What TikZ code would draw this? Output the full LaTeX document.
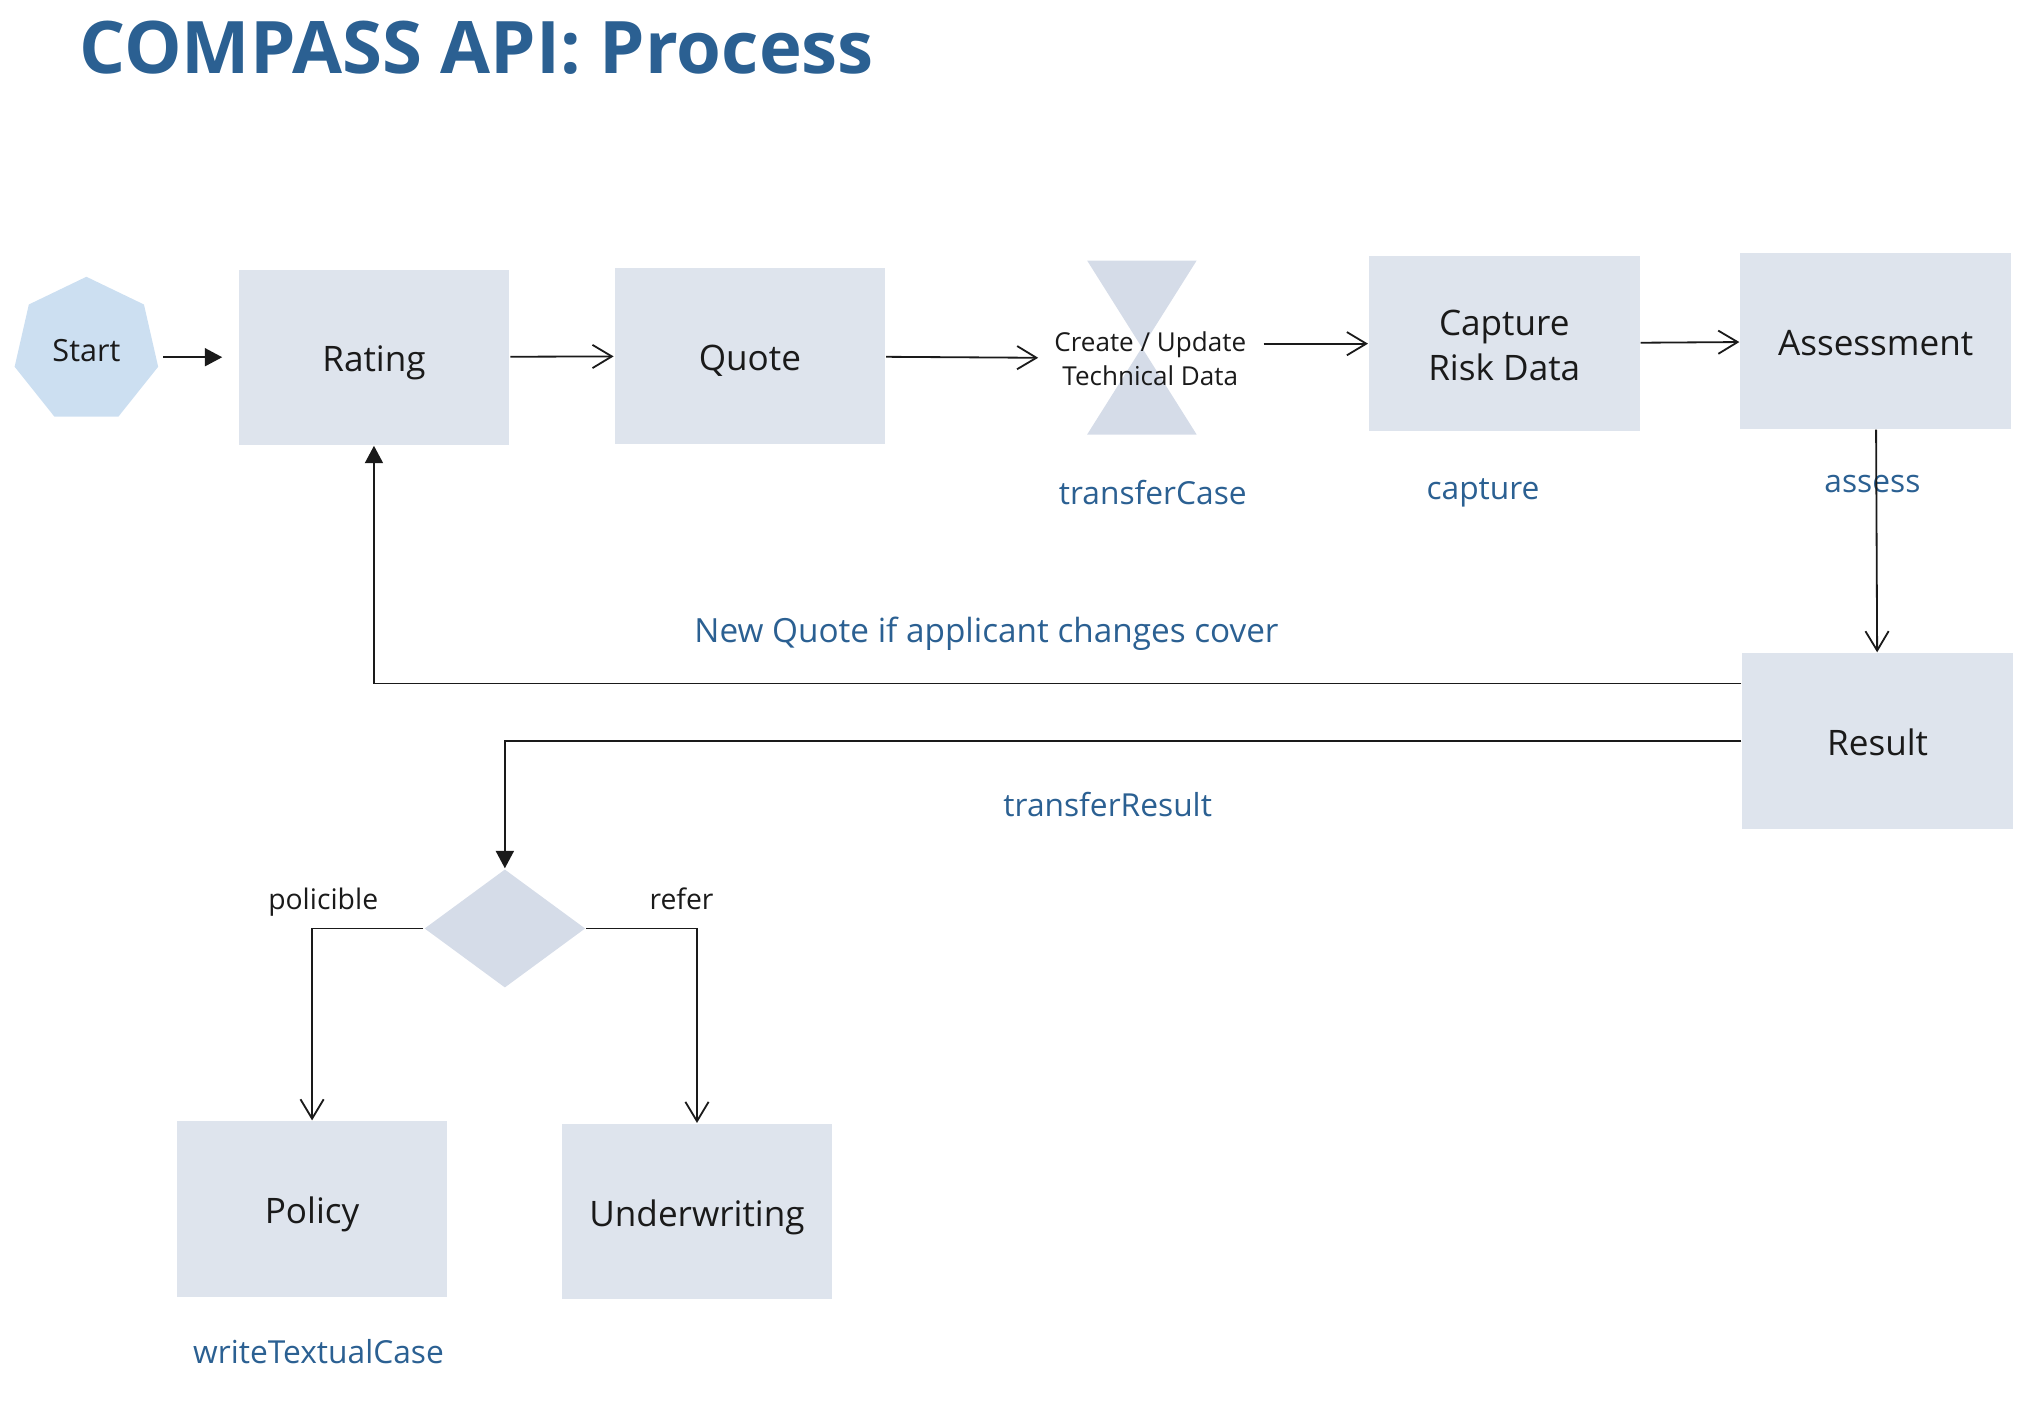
\documentclass[tikz,border=0pt]{standalone}
\usepackage{fontspec}
\setmainfont{Open Sans}
\usetikzlibrary{arrows.meta,shapes.geometric,positioning}

\definecolor{titleblue}{HTML}{2B6092}
\definecolor{boxfill}{HTML}{DEE4ED}
\definecolor{startfill}{HTML}{CCDFF1}
\definecolor{gatefill}{HTML}{D5DCE8}
\definecolor{ink}{HTML}{1A1A1A}

\begin{document}
\begin{tikzpicture}[x=0.02cm,y=-0.02cm,color=ink,line width=0.8pt,
                    >={Straight Barb[length=0.3cm,width=0.36cm]},
                    box/.style={rectangle,fill=boxfill,minimum width=4.2cm,minimum height=2.72cm,
                                align=center,font=\fontsize{15.5}{19.9}\selectfont,
                                execute at begin node={\rule[-5pt]{0pt}{22.8pt}},
                                execute at end node={\rule[-5pt]{0pt}{22.8pt}}},
                    api/.style={text=titleblue,font=\fontsize{14}{17}\selectfont,yshift=-0.06cm,
                                execute at begin node=\strut},
                    tag/.style={font=\fontsize{12.5}{15}\selectfont,execute at begin node=\strut},
                    fillarrow/.style={-{Triangle[length=0.27cm,width=0.28cm]}}]

  \useasboundingbox (0,0) rectangle (1568,1107);

  \node [anchor=base west, text=titleblue, font=\fontsize{32}{37}\selectfont\bfseries] (title) at (55,57) {COMPASS API: Process};

  \node [regular polygon, regular polygon sides=7, fill=startfill, minimum size=2.284cm, inner sep=0pt,
         font=\fontsize{13.5}{16}\selectfont] (start) at (67,271.7) {Start};
  \node [box] (rating) at (290,277) {Rating};
  \node [box] (quote) at (581.5,276) {Quote};

  % hourglass behind the text
  \fill [gatefill] (843,202) -- (928,202) -- (843,337) -- (928,337) -- cycle;
  \node [align=center, font=\fontsize{11.5}{14.8}\selectfont] (tech) at (892,278) {Create / Update\\Technical Data};

  \node [box, execute at begin node={}, execute at end node={}] (capture) at (1166.5,266.5)
        {\rule{0pt}{17.8pt}Capture\\Risk Data\rule[-5pt]{0pt}{5pt}};
  \node [box] (assessment) at (1454.5,264.5) {Assessment};
  \node [box] (result) at (1456,574.5) {Result};
  \node [diamond, fill=gatefill, minimum width=2.5cm, minimum height=1.84cm, inner sep=0pt] (decision) at (391.5,720) {};
  \node [box] (policy) at (242,937.5) {Policy};
  \node [box] (underwriting) at (540.5,939.5) {Underwriting};

  \node [api] (transfercase) at (894,382) {transferCase};
  \node [api] (capturecall) at (1150,378) {capture};
  \node [api] (assesscall) at (1452,373) {assess};
  \node [api, font=\fontsize{14.7}{17}\selectfont] (newquote) at (765,489) {New Quote if applicant changes cover};
  \node [api] (transferresult) at (859,624) {transferResult};
  \node [api] (writecase) at (247,1048) {writeTextualCase};

  \path [draw, fillarrow, shorten <=0.12cm, shorten >=0.24cm] (start.east |- rating.west) -- (rating.west);
  \path [draw, ->] (rating) -- (quote);
  \path [draw, ->, shorten >=0.12cm] (quote) -- (tech);
  \path [draw, ->, shorten <=0.14cm] (tech.east |- capture.west) -- (capture.west);
  \path [draw, ->] (capture) -- (assessment);
  \path [draw, ->] (assessment) -- (result);
  \path [draw, fillarrow] ([yshift=0.89cm]result.west) -| (rating.south);
  \path [draw, fillarrow] (result.west) -| (decision.north);
  \path [draw, ->] (decision.west) -| node[tag, pos=0.45, above=0pt] {policible} (policy.north);
  \path [draw, ->] (decision.east) -| node[tag, pos=0.43, above=0pt] {refer} (underwriting.north);

\end{tikzpicture}
\end{document}
